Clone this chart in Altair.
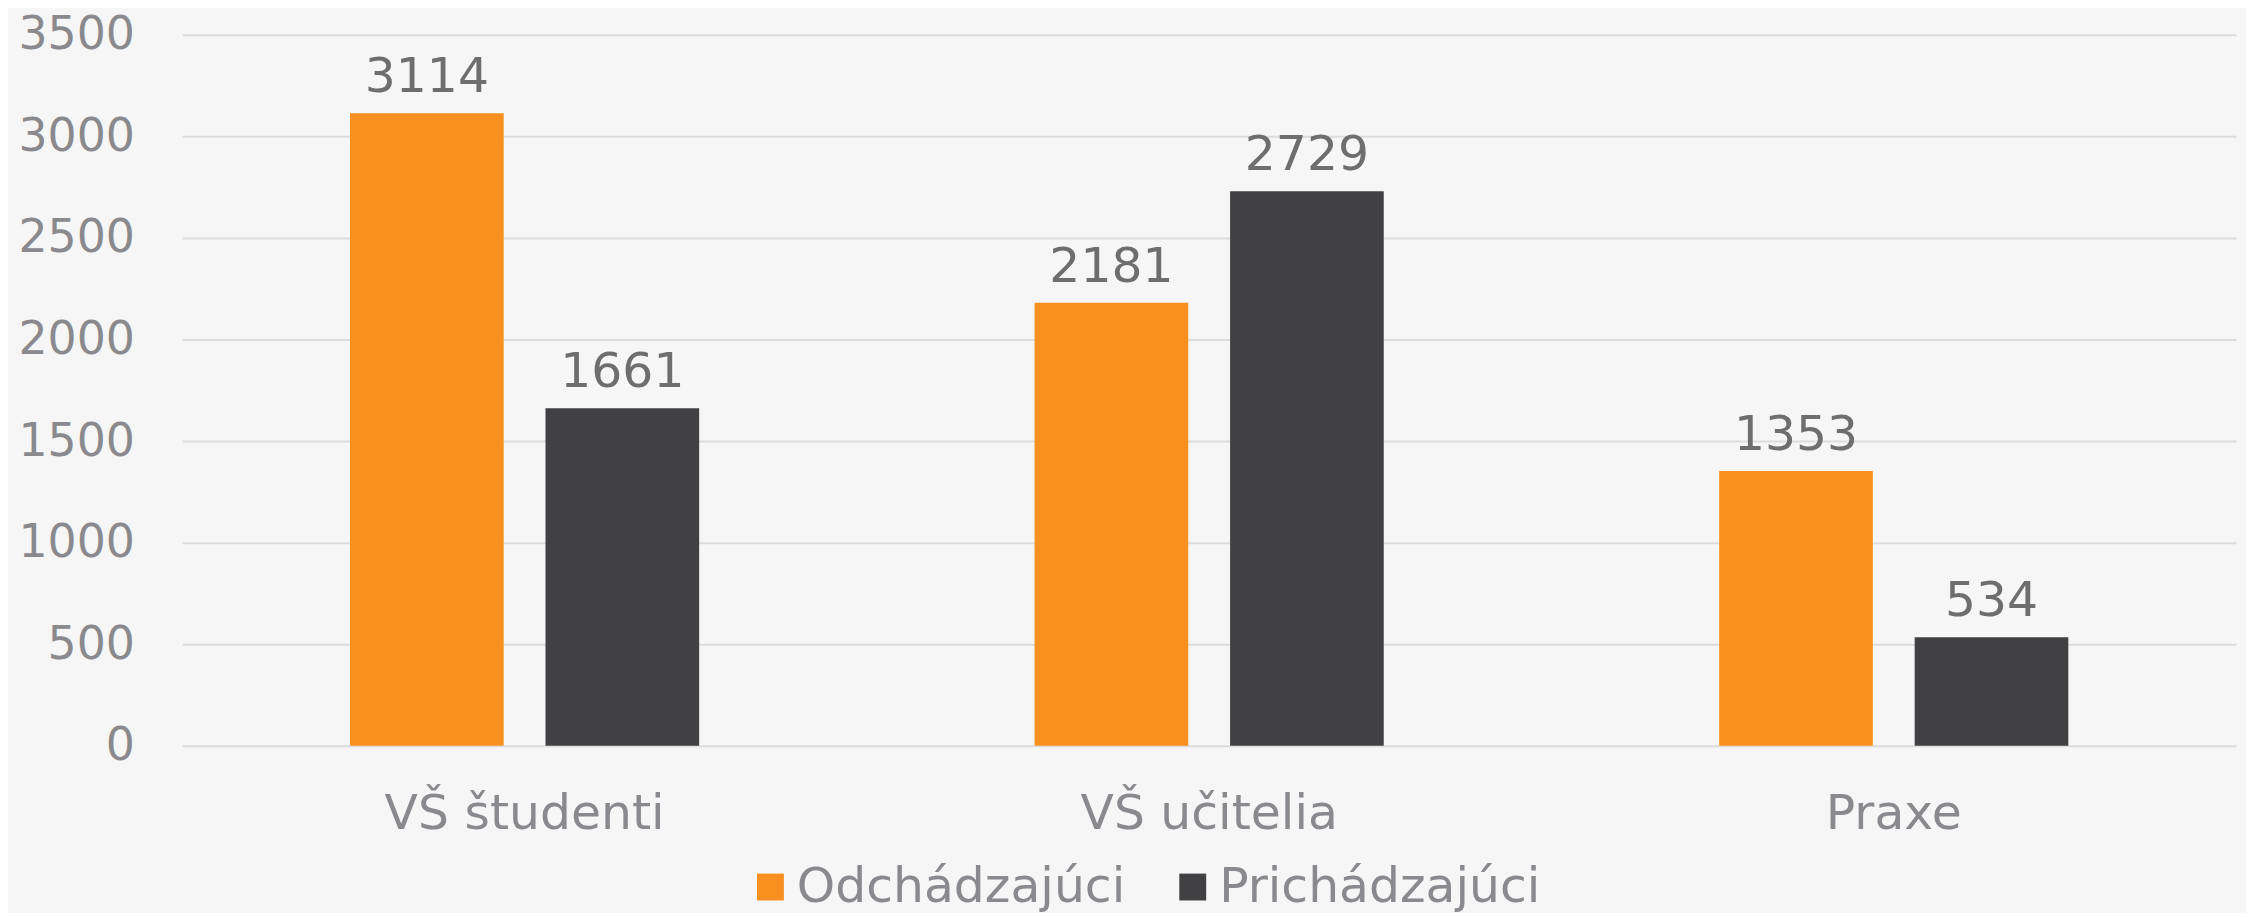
import altair as alt
import pandas as pd

categories = ["VŠ študenti", "VŠ učitelia", "Praxe"]
series = ["Odchádzajúci", "Prichádzajúci"]
odchadzajuci = [3114, 2181, 1353]
prichadzajuci = [1661, 2729, 534]
colors = ["#F7901E", "#414143"]

rows = []
for i, c in enumerate(categories):
    rows.append({"kat": c, "typ": series[0], "val": odchadzajuci[i]})
    rows.append({"kat": c, "typ": series[1], "val": prichadzajuci[i]})
df = pd.DataFrame(rows)

FONT = "DejaVu Sans"

x = alt.X("kat:N", sort=categories, title=None,
          scale=alt.Scale(paddingInner=0.49, paddingOuter=0.245),
          axis=alt.Axis(labelAngle=0, labelFontSize=49, labelColor="#8a8a8e",
                        labelFont=FONT, labelPadding=44, ticks=False, domain=False,
                        labelLimit=800))
xo = alt.XOffset("typ:N", sort=series, scale=alt.Scale(paddingInner=0.214))
y = alt.Y("val:Q", title=None,
          scale=alt.Scale(domain=[0, 3500], nice=False),
          axis=alt.Axis(values=[0, 500, 1000, 1500, 2000, 2500, 3000, 3500],
                        format="d",
                        labelFontSize=46, labelColor="#8a8a8e", labelFont=FONT,
                        labelPadding=48, ticks=False, domain=False,
                        gridColor="#dcdcdc", gridWidth=2))

bars = alt.Chart(df).mark_bar().encode(
    x=x, xOffset=xo, y=y,
    color=alt.Color("typ:N", sort=series,
                    scale=alt.Scale(domain=series, range=colors),
                    legend=alt.Legend(title=None, orient="none", direction="horizontal",
                                      legendX=566, legendY=831,
                                      symbolType="square", symbolSize=729,
                                      symbolStrokeWidth=0,
                                      labelFontSize=49, labelFont=FONT,
                                      labelColor="#8a8a8e", labelOffset=2,
                                      columnPadding=43, labelLimit=600))
)

labels = alt.Chart(df).mark_text(
    baseline="alphabetic", dy=-21, fontSize=49, font=FONT, color="#6e6e6e"
).encode(x=x, xOffset=xo, y=y, text=alt.Text("val:Q", format="d"))

chart = alt.layer(bars, labels).properties(
    width=2062, height=714,
    autosize=alt.AutoSizeParams(type="none"),
    padding={"left": 175, "top": 25, "right": 10, "bottom": 166},
    background="#f6f6f6",
).configure_view(stroke=None)

chart.save("out.html", embed_options={"renderer": "svg", "actions": False})
